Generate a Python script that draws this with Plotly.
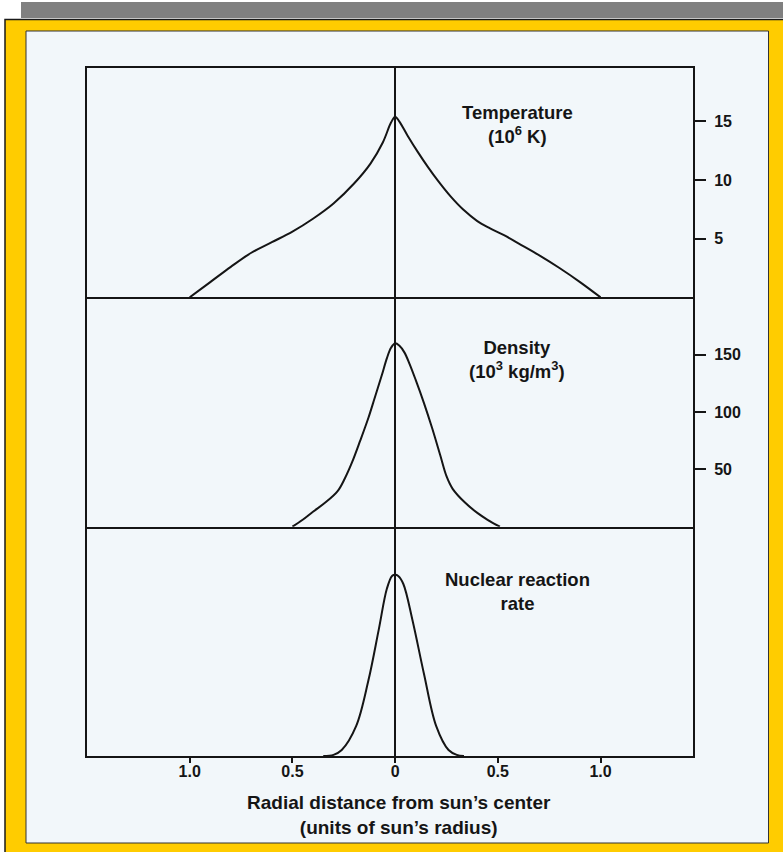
import plotly.graph_objects as go
from plotly.subplots import make_subplots

# ---- data ----
temp_r = [-1.0, -0.9, -0.8, -0.7, -0.6, -0.5, -0.4, -0.3, -0.2, -0.12, -0.06, -0.02, 0.0,
          0.02, 0.06, 0.11, 0.16, 0.21, 0.27, 0.33, 0.40, 0.46, 0.53, 0.6, 0.7, 0.8, 0.9, 1.0]
temp_T = [0, 1.3, 2.6, 3.8, 4.7, 5.6, 6.7, 8.0, 9.7, 11.4, 13.2, 14.9, 15.4,
          15.0, 13.8, 12.4, 11.1, 9.9, 8.6, 7.5, 6.5, 5.9, 5.3, 4.6, 3.6, 2.5, 1.3, 0]

dens_r = [-0.50, -0.45, -0.40, -0.34, -0.28, -0.245, -0.21, -0.17, -0.13, -0.10, -0.065, -0.04, -0.02, 0.0,
          0.02, 0.045, 0.07, 0.10, 0.14, 0.18, 0.22, 0.25, 0.28, 0.34, 0.40, 0.45, 0.51]
dens_v = [0, 6, 13, 21, 31, 42, 56, 75, 95, 112, 132, 147, 156, 160,
          158, 152, 142, 128, 108, 86, 62, 44, 33, 21, 12, 6, 0]

nuc_r = [-0.35, -0.30, -0.26, -0.19, -0.13, -0.08, -0.04, -0.015, 0.0, 0.015, 0.04, 0.085, 0.14, 0.20, 0.26, 0.30, 0.335]
nuc_v = [0, 0.005, 0.026, 0.13, 0.33, 0.55, 0.73, 0.785, 0.79, 0.785, 0.75, 0.59, 0.36, 0.13, 0.026, 0.005, 0]

x_tickvals = [-1.0, -0.5, 0.0, 0.5, 1.0]
x_ticktext = ["1.0", "0.5", "0", "0.5", "1.0"]
temp_ticks = [5, 10, 15]
dens_ticks = [50, 100, 150]

panel_labels = ["Temperature<br>(10<sup>6</sup> K)",
                "Density<br>(10<sup>3</sup> kg/m<sup>3</sup>)",
                "Nuclear reaction<br>rate"]
x_title = "Radial distance from sun’s center<br>(units of sun’s radius)"

# ---- figure ----
W, H = 783, 852
L, R, T, B = 87, 90, 68, 96
PW, PH = W - L - R, H - T - B

def px(x):
    return (x - L) / PW

def py(y):
    return (H - B - y) / PH

FONT = "Liberation Sans, Arial, Helvetica, sans-serif"
INK = "#151515"

fig = make_subplots(rows=3, cols=1, shared_xaxes=True, vertical_spacing=0)

for i, (xr, yv) in enumerate([(temp_r, temp_T), (dens_r, dens_v), (nuc_r, nuc_v)]):
    fig.add_trace(go.Scatter(x=xr, y=yv, mode="lines",
                             line=dict(color=INK, width=2, shape="spline", smoothing=1.0),
                             showlegend=False, hoverinfo="skip"), row=i + 1, col=1)

tickfont = dict(family=FONT, size=16, color=INK, weight="bold")

for i in range(1, 4):
    fig.update_xaxes(range=[-1.5, 1.45], showline=True, mirror=(i == 1), linecolor=INK, linewidth=2,
                     showgrid=False, zeroline=True, zerolinecolor=INK, zerolinewidth=2,
                     tickvals=x_tickvals, ticktext=x_ticktext, tickfont=tickfont,
                     ticks="outside" if i == 3 else "", ticklen=5, tickwidth=2, tickcolor=INK,
                     showticklabels=(i == 3), row=i, col=1)
fig.update_xaxes(ticklabelstandoff=-5, row=3, col=1)

yranges = [[0, 19.55], [0, 200], [0, 1]]
yticks = [temp_ticks, dens_ticks, []]
for i in range(1, 4):
    fig.update_yaxes(range=yranges[i - 1], side="right", showline=True, mirror=True,
                     linecolor=INK, linewidth=2, showgrid=False, zeroline=False,
                     tickvals=yticks[i - 1], ticks="outside" if yticks[i - 1] else "",
                     ticklen=11, tickwidth=2, tickcolor=INK, tickfont=tickfont,
                     ticklabelstandoff=5, row=i, col=1)

shapes = [
    dict(type="rect", xref="paper", yref="paper", x0=px(21), x1=px(790), y0=py(2), y1=py(18),
         fillcolor="#808080", line=dict(width=0), layer="below"),
    dict(type="rect", xref="paper", yref="paper", x0=px(5), x1=px(800), y0=py(19.5), y1=py(870),
         fillcolor="#FFCC00", line=dict(color="#1a1a1a", width=1.5), layer="below"),
    dict(type="rect", xref="paper", yref="paper", x0=px(26), x1=px(768.5), y0=py(31), y1=py(843),
         fillcolor="#F2F7FA", line=dict(color="#333333", width=1), layer="below"),
]

annots = []
label_tops = [100, 335, 567]
for lab, top in zip(panel_labels, label_tops):
    annots.append(dict(text=lab, xref="paper", yref="paper", x=px(517), y=py(top),
                       xanchor="center", yanchor="top", showarrow=False, align="center",
                       font=dict(family=FONT, size=18.5, color=INK, weight="bold")))
annots.append(dict(text=x_title, xref="paper", yref="paper", x=px(399), y=py(790),
                   xanchor="center", yanchor="top", showarrow=False, align="center",
                   font=dict(family=FONT, size=19, color=INK, weight="bold")))

fig.update_layout(width=W, height=H, autosize=False,
                  margin=dict(l=L, r=R, t=T, b=B, pad=0),
                  paper_bgcolor="white", plot_bgcolor="rgba(0,0,0,0)",
                  shapes=shapes, annotations=annots, showlegend=False,
                  font=dict(family=FONT, color=INK))

fig.write_html("out.html", config={"displayModeBar": False},
               post_script="document.body.style.margin='0';document.body.style.overflow='hidden';")
